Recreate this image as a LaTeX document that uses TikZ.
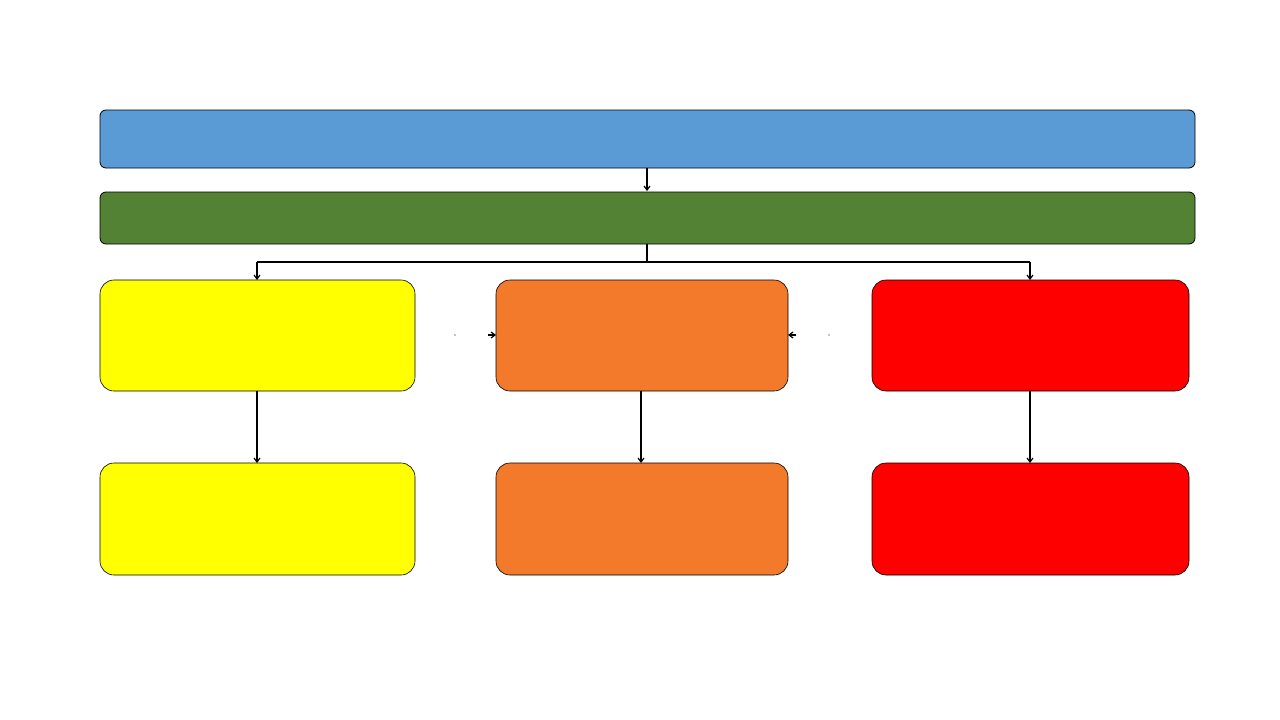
\documentclass[tikz,border=0pt]{standalone}
\usetikzlibrary{arrows.meta}
\definecolor{cblue}{HTML}{5B9BD5}
\definecolor{cgreen}{HTML}{548235}
\definecolor{cyellow}{HTML}{FFFF00}
\definecolor{corange}{HTML}{F47A2B}
\definecolor{cred}{HTML}{FF0000}
\begin{document}
\begin{tikzpicture}[x=1pt,y=-1pt,
  bar/.style={draw=black,line width=0.8pt,rounded corners=6pt},
  card/.style={draw=black,line width=0.6pt,rounded corners=14pt},
  conn/.style={line width=1.2pt,-{Straight Barb[length=4pt,width=6pt]}},
  plain/.style={line width=1.2pt}]
\useasboundingbox (0,0) rectangle (1280,720);
\fill[white] (0,0) rectangle (1280,720);
% bars
\draw[bar,fill=cblue] (100,110) rectangle (1195,168);
\node[inner sep=0] (blue) at (647.5,139) {};
\coordinate (blueS) at (647,168);
\draw[bar,fill=cgreen] (100,192) rectangle (1195,244);
\coordinate (greenN) at (647,191);
\coordinate (greenS) at (647,244);
% top cards
\draw[card,fill=cyellow] (100,280) rectangle (415,391);
\draw[card,fill=corange] (496,280) rectangle (788,391);
\draw[card,fill=cred] (872,280) rectangle (1189,391);
% bottom cards
\draw[card,fill=cyellow] (100,463) rectangle (415,575);
\draw[card,fill=corange] (496,463) rectangle (788,575);
\draw[card,fill=cred] (872,463) rectangle (1189,575);
% anchor coordinates
\coordinate (yN) at (257,280); \coordinate (yS) at (257,391); \coordinate (ybN) at (257,463);
\coordinate (oS) at (641,391); \coordinate (obN) at (641,463);
\coordinate (oW) at (496,335); \coordinate (oE) at (788,335);
\coordinate (rN) at (1030,280); \coordinate (rS) at (1030,391); \coordinate (rbN) at (1030,463);
\coordinate (split) at (647,262);
\coordinate (splitL) at (257,262);
\coordinate (splitR) at (1030,262);
\coordinate (dl) at (455,335);
\coordinate (dr) at (829,335);
% connectors
\draw[conn] (blueS) -- (greenN);
\draw[plain] (greenS) -- (split);
\draw[plain] (splitL) -- (splitR);
\draw[conn] (splitL) -- (yN);
\draw[conn] (splitR) -- (rN);
\draw[conn] (yS) -- (ybN);
\draw[conn] (oS) -- (obN);
\draw[conn] (rS) -- (rbN);
\fill (dl) circle (0.6);
\fill (dr) circle (0.6);
\draw[conn,shorten <=33pt] (dl) -- (oW);
\draw[conn,shorten <=33pt] (dr) -- (oE);
\end{tikzpicture}
\end{document}
